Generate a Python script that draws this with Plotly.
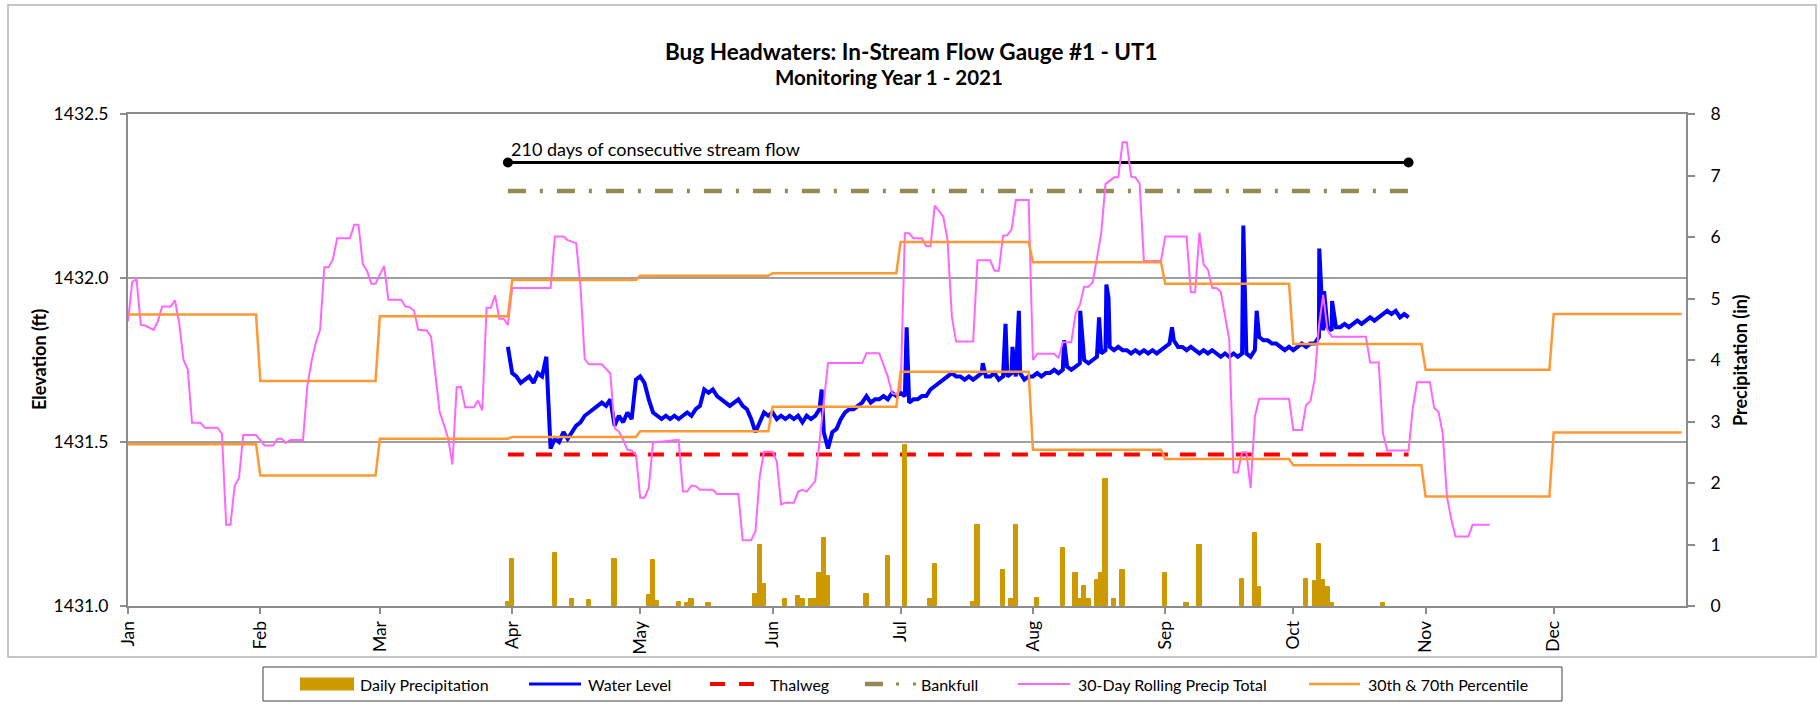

# Bug Headwaters in-stream flow gauge #1 (UT1), monitoring year 1 - 2021
import pandas as pd
import plotly.graph_objects as go

YEAR_START = pd.Timestamp('2021-01-01')

# ---- data ----
months = ['Jan', 'Feb', 'Mar', 'Apr', 'May', 'Jun', 'Jul', 'Aug', 'Sep', 'Oct', 'Nov', 'Dec']
# 30th / 70th percentile of the 30-day rolling precip total, per month (in)
pct70_in = [4.74, 3.66, 4.71, 5.30, 5.37, 5.41, 5.92, 5.59, 5.24, 4.26, 3.84, 4.75]
pct30_in = [2.63, 2.12, 2.72, 2.75, 2.84, 3.24, 3.81, 2.54, 2.39, 2.29, 1.78, 2.82]

# daily precipitation (day of year, 0 = Jan 1) and depth (in)
precip_doy = [89, 90, 100, 104, 108, 114, 122, 123, 124, 129, 131, 132, 136, 147, 148, 149,
              154, 157, 158, 160, 161, 162, 163, 164, 173, 178, 182, 188, 189, 198, 199,
              205, 207, 208, 213, 219, 222, 223, 224, 225, 227, 228, 229, 231, 233, 243,
              248, 251, 261, 264, 265, 276, 278, 279, 280, 281, 282, 294]
precip_in = [0.06, 0.77, 0.87, 0.11, 0.09, 0.77, 0.18, 0.74, 0.08, 0.06, 0.05, 0.12, 0.05, 0.19, 0.99, 0.35,
             0.11, 0.17, 0.11, 0.11, 0.11, 0.54, 1.11, 0.48, 0.19, 0.82, 2.62, 0.11, 0.69, 0.06, 1.32,
             0.58, 0.11, 1.31, 0.13, 0.95, 0.54, 0.11, 0.32, 0.11, 0.43, 0.54, 2.07, 0.12, 0.59, 0.54,
             0.05, 1.00, 0.44, 1.19, 0.31, 0.44, 0.40, 1.01, 0.43, 0.31, 0.05, 0.05]

# 30-day rolling precipitation total (day of year, in)
roll_doy = [0, 1, 2, 3, 4, 6, 7, 8, 10, 11, 12, 13, 14, 15, 17, 18, 21, 22, 23, 24, 25, 26, 27, 30,
            32, 34, 35, 36, 37, 38, 41, 42, 43, 44, 45, 46, 47, 48, 49, 52, 53, 54, 55, 56, 57, 58,
            60, 61, 64, 65, 66, 67, 68, 70, 71, 73, 74, 75, 76, 77, 78, 79, 81, 82, 83, 84, 85, 86,
            87, 88, 89, 90, 99, 100, 102, 103, 105, 106, 107, 108, 111, 112, 113, 114, 115, 116, 117,
            118, 119, 120, 121, 122, 123, 129, 130, 131, 132, 133, 134, 137, 138, 143, 144, 146, 147,
            148, 149, 151, 152, 153, 154, 156, 157, 158, 159, 161, 162, 164, 172, 173, 176, 178, 179,
            180, 181, 182, 183, 184, 186, 187, 188, 189, 191, 192, 193, 194, 198, 199, 202, 203, 204,
            205, 206, 207, 208, 211, 212, 213, 217, 218, 219, 221, 222, 223, 224, 225, 226, 227, 228,
            229, 231, 232, 233, 234, 235, 236, 237, 238, 242, 243, 248, 249, 250, 251, 252, 253, 254,
            255, 256, 258, 259, 260, 261, 262, 263, 264, 265, 272, 273, 275, 276, 277, 278, 279, 280,
            281, 282, 290, 291, 293, 294, 295, 300, 301, 302, 305, 306, 307, 308, 309, 310, 311, 314,
            315, 319]
roll_in = [4.63, 5.27, 5.31, 4.57, 4.56, 4.49, 4.63, 4.87, 4.87, 4.97, 4.60, 4.00, 3.85, 2.98, 2.98, 2.90, 2.90, 2.80, 1.32, 1.32, 1.96, 2.08, 2.78, 2.78,
           2.61, 2.61, 2.72, 2.72, 2.65, 2.70, 2.70, 3.57, 3.98, 4.28, 4.49, 5.51, 5.51, 5.64, 5.98, 5.98, 6.20, 6.20, 5.56, 5.45, 5.24, 5.24,
           5.53, 4.98, 4.98, 4.87, 4.86, 4.80, 4.49, 4.48, 4.38, 3.16, 2.95, 2.73, 2.30, 3.56, 3.56, 3.23, 3.23, 3.34, 3.18, 4.85, 4.85, 5.05,
           4.67, 4.67, 4.57, 5.17, 5.17, 6.01, 6.01, 5.95, 5.90, 5.20, 4.02, 3.93, 3.93, 3.85, 3.78, 2.89, 2.84, 2.70, 2.54,
           2.53, 2.46, 1.76, 1.76, 1.92, 2.66, 2.70, 1.86, 1.86, 1.96, 1.95, 1.89, 1.89, 1.82, 1.82, 1.07, 1.07, 1.22,
           2.11, 2.51, 2.51, 2.35, 1.65, 1.68, 1.68, 1.86, 1.89, 1.86, 2.03, 2.70, 3.95, 3.95, 4.11, 4.11, 3.73, 3.46,
           3.44, 3.52, 6.06, 6.06, 5.98, 5.98, 5.85, 5.85, 6.51, 6.33, 5.95, 4.71, 4.30, 4.30, 5.62, 5.62, 5.45, 5.45,
           6.02, 6.03, 6.12, 6.60, 6.60, 4.00, 4.10, 4.10, 4.03, 4.29, 4.29, 4.76, 4.90, 5.19, 5.19, 5.26, 5.68, 6.06,
           6.86, 6.97, 6.97, 7.54, 7.54, 6.98, 6.97, 6.87, 5.61, 5.61, 6.01, 6.01, 5.10, 5.10, 6.07, 5.55, 5.47, 5.17,
           5.17, 5.11, 4.33, 2.17, 2.17, 2.50, 2.50, 1.92, 3.08, 3.37, 3.37, 2.86, 2.86, 3.27, 3.33, 3.68, 4.55, 5.06,
           4.49, 4.38, 4.38, 3.96, 3.96, 2.81, 2.53, 2.53, 3.22, 3.64, 3.64, 3.22, 3.16, 2.81, 1.78, 1.41, 1.13, 1.13,
           1.32, 1.32]

# water level (ft), one reading per day starting Mar 31, plus short storm spikes
wl_start = '2021-03-31'
wl_daily = [1431.79, 1431.71, 1431.70, 1431.68, 1431.69, 1431.70, 1431.68, 1431.71, 1431.70, 1431.76,  # Mar 31 - Apr 8
            1431.48, 1431.51, 1431.50, 1431.53, 1431.51, 1431.53, 1431.55, 1431.56, 1431.58, 1431.59,
            1431.60, 1431.61, 1431.62, 1431.61, 1431.63, 1431.55, 1431.58, 1431.56, 1431.59, 1431.57,
            1431.69, 1431.70, 1431.68, 1431.63, 1431.59, 1431.58, 1431.57, 1431.58, 1431.57, 1431.58,
            1431.57, 1431.58, 1431.59, 1431.58, 1431.60, 1431.61, 1431.66, 1431.65, 1431.66, 1431.64,
            1431.63, 1431.62, 1431.61, 1431.62, 1431.63, 1431.61, 1431.60, 1431.57, 1431.53, 1431.56,
            1431.59, 1431.58, 1431.59, 1431.57, 1431.58, 1431.57, 1431.58, 1431.57, 1431.58, 1431.56,
            1431.58, 1431.57, 1431.58, 1431.60, 1431.53, 1431.48, 1431.53, 1431.54, 1431.57, 1431.59,
            1431.60, 1431.60, 1431.61, 1431.62, 1431.64, 1431.62, 1431.63, 1431.63, 1431.64, 1431.63,
            1431.65, 1431.64, 1431.65, 1431.64, 1431.62, 1431.63, 1431.63, 1431.64, 1431.64, 1431.66,
            1431.67, 1431.68, 1431.69, 1431.70, 1431.71, 1431.70, 1431.70, 1431.69, 1431.70, 1431.69,
            1431.70, 1431.71, 1431.70, 1431.70, 1431.71, 1431.69, 1431.70, 1431.70, 1431.71, 1431.70,
            1431.71, 1431.69, 1431.70, 1431.70, 1431.71, 1431.70, 1431.71, 1431.71, 1431.72, 1431.71,
            1431.72, 1431.73, 1431.72, 1431.73, 1431.74, 1431.75, 1431.74, 1431.75, 1431.76, 1431.77,
            1431.78, 1431.79, 1431.78, 1431.79, 1431.78, 1431.78, 1431.77, 1431.78, 1431.77, 1431.78,
            1431.77, 1431.78, 1431.77, 1431.78, 1431.79, 1431.80, 1431.81, 1431.79, 1431.79, 1431.78,
            1431.79, 1431.78, 1431.77, 1431.78, 1431.77, 1431.78, 1431.77, 1431.76, 1431.77, 1431.76,
            1431.77, 1431.76, 1431.77, 1431.77, 1431.76, 1431.78, 1431.82, 1431.81, 1431.81, 1431.80,
            1431.80, 1431.79, 1431.78, 1431.79, 1431.78, 1431.79, 1431.80, 1431.79, 1431.80, 1431.80,
            1431.82, 1431.84, 1431.85, 1431.84, 1431.85, 1431.85, 1431.86, 1431.85, 1431.86, 1431.87,
            1431.86, 1431.87, 1431.88, 1431.87, 1431.88, 1431.89, 1431.90, 1431.89, 1431.90, 1431.88,
            1431.89, 1431.88]
wl_spike_time = ['2021-06-12 12:00', '2021-07-02 10:00', '2021-07-20 06:00', '2021-07-25 14:00',
                 '2021-07-27 05:00', '2021-07-28 17:00', '2021-08-08 07:00', '2021-08-12 02:00',
                 '2021-08-16 12:00', '2021-08-18 05:00', '2021-08-18 17:00', '2021-09-02 14:00',
                 '2021-09-19 07:00', '2021-09-22 10:00', '2021-10-07 02:00', '2021-10-08 05:00',
                 '2021-10-10 02:00']
wl_spike_level = [1431.66, 1431.85, 1431.74, 1431.86, 1431.79, 1431.90, 1431.81, 1431.90,
                  1431.88, 1431.98, 1431.94, 1431.85, 1432.16, 1431.90, 1432.09, 1431.96, 1431.93]

flow_start, flow_end = '2021-03-31', '2021-10-28'
thalweg_ft = 1431.462
bankfull_ft = 1432.265
flow_bar_ft = 1432.352
flow_label = '210 days of consecutive stream flow'

# ---- styles ----
C_BAR = '#CC9900'
C_WL = '#0000FF'
C_THAL = '#FF0000'
C_BANK = '#948A54'
C_ROLL = '#FF66FF'
C_PCT = '#FF9933'
C_AXIS = '#8C8C8C'
C_GRID = '#A0A0A0'
FONT = 'Lato'

W, H = 1820, 711
L, R, T, B = 128, 134, 114, 105


def px(x):
    '''pixel column -> paper x'''
    return (x - L) / (W - L - R)


def py(y):
    '''pixel row (from top) -> paper y'''
    return (H - B - y) / (H - T - B)


def doy(days):
    '''day-of-year offsets -> timestamps'''
    return [YEAR_START + pd.Timedelta(days=d) for d in days]


# monthly step lines: hold each month's value from its first to its last day
month_first = pd.date_range('2021-01-01', periods=12, freq='MS')
month_last = pd.date_range('2021-01-31', periods=12, freq='ME')
step_x = [d for pair in zip(month_first, month_last) for d in pair]
p70_y = [v for v in pct70_in for _ in range(2)]
p30_y = [v for v in pct30_in for _ in range(2)]

wl = pd.concat([
    pd.Series(wl_daily, index=pd.date_range(wl_start, periods=len(wl_daily), freq='D')),
    pd.Series(wl_spike_level, index=pd.to_datetime(wl_spike_time)),
]).sort_index()

fig = go.Figure()

# primary axis: elevations
fig.add_trace(go.Scatter(x=wl.index, y=wl.values, mode='lines',
                         line=dict(color=C_WL, width=4), name='Water Level'))
fig.add_trace(go.Scatter(x=[flow_start, flow_end], y=[thalweg_ft, thalweg_ft], mode='lines',
                         line=dict(color=C_THAL, width=4, dash='16px,12px'), name='Thalweg'))
fig.add_trace(go.Scatter(x=[flow_start, flow_end], y=[bankfull_ft, bankfull_ft], mode='lines',
                         line=dict(color=C_BANK, width=4.5, dash='18px,14px,3px,14px'), name='Bankfull'))
fig.add_trace(go.Scatter(x=[flow_start, flow_end], y=[flow_bar_ft, flow_bar_ft], mode='lines+markers',
                         line=dict(color='black', width=3), marker=dict(color='black', size=10),
                         name='Stream flow'))

# secondary axis: precipitation
fig.add_trace(go.Bar(x=doy(precip_doy), y=precip_in, yaxis='y2', width=86400000,
                     marker=dict(color=C_BAR, line=dict(color=C_BAR, width=1)),
                     name='Daily Precipitation'))
fig.add_trace(go.Scatter(x=doy(roll_doy), y=roll_in, yaxis='y2', mode='lines',
                         line=dict(color=C_ROLL, width=2), name='30-Day Rolling Precip Total'))
fig.add_trace(go.Scatter(x=step_x, y=p70_y, yaxis='y2', mode='lines',
                         line=dict(color=C_PCT, width=2.5), name='70th Percentile'))
fig.add_trace(go.Scatter(x=step_x, y=p30_y, yaxis='y2', mode='lines',
                         line=dict(color=C_PCT, width=2.5), name='30th Percentile'))

annotations = [
    dict(text='<b>Bug Headwaters: In-Stream Flow Gauge #1 - UT1</b>', x=px(911), y=py(51),
         font=dict(size=22.5)),
    dict(text='<b>Monitoring Year 1 - 2021</b>', x=px(889), y=py(77), font=dict(size=20.5)),
    dict(text='<b>Elevation (ft)</b>', x=px(39), y=py(360), textangle=-90, font=dict(size=18)),
    dict(text='<b>Precipitation (in)</b>', x=px(1740), y=py(360), textangle=-90, font=dict(size=18)),
]
for a in annotations:
    a.update(xref='paper', yref='paper', showarrow=False, xanchor='center', yanchor='middle')

# label above the stream-flow bar
annotations.append(dict(text=flow_label, x=flow_start, y=flow_bar_ft, xref='x', yref='y',
                        xanchor='left', yanchor='bottom', xshift=1, yshift=1, showarrow=False,
                        font=dict(size=18)))

shapes = [
    # chart frame
    dict(type='rect', xref='paper', yref='paper', x0=px(8), x1=px(1816), y0=py(657), y1=py(5),
         line=dict(color='#B4B4B4', width=1.5)),
    # legend box
    dict(type='rect', xref='paper', yref='paper', x0=px(263), x1=px(1562), y0=py(701), y1=py(667),
         line=dict(color='#404040', width=1)),
]

# legend entries drawn by hand to keep Excel's spacing
LEG_Y = 684
legend_items = [
    ('Daily Precipitation', 358),
    ('Water Level', 586),
    ('Thalweg', 768),
    ('Bankfull', 919),
    ('30-Day Rolling Precip Total', 1076),
    ('30th & 70th Percentile', 1366),
]
for text, x in legend_items:
    annotations.append(dict(text=text, x=px(x), y=py(LEG_Y), xref='paper', yref='paper',
                            xanchor='left', yanchor='middle', showarrow=False, font=dict(size=16)))


def leg_line(x0, x1, color, width):
    return dict(type='line', xref='paper', yref='paper', x0=px(x0), x1=px(x1),
                y0=py(LEG_Y), y1=py(LEG_Y), line=dict(color=color, width=width))


shapes += [
    dict(type='rect', xref='paper', yref='paper', x0=px(300), x1=px(354), y0=py(690.5), y1=py(677.5),
         fillcolor=C_BAR, line=dict(width=0)),
    leg_line(529, 581, C_WL, 3),
    leg_line(710, 725, C_THAL, 4),
    leg_line(739, 754, C_THAL, 4),
    leg_line(865, 883, C_BANK, 4.5),
    leg_line(896, 899, C_BANK, 3),
    leg_line(913, 916, C_BANK, 3),
    leg_line(1018, 1070, C_ROLL, 2),
    leg_line(1309, 1360, C_PCT, 2.5),
]

fig.update_layout(
    width=W, height=H,
    margin=dict(l=L, r=R, t=T, b=B),
    paper_bgcolor='white', plot_bgcolor='white',
    showlegend=False,
    bargap=0,
    font=dict(family=FONT, size=17.5, color='black'),
    xaxis=dict(type='date', range=['2021-01-01', '2022-01-01'],
               tickvals=month_first, ticktext=months, tickangle=-90,
               ticks='outside', ticklen=6, tickwidth=1.5, tickcolor=C_AXIS,
               showline=True, mirror=True, linecolor=C_AXIS, linewidth=2,
               showgrid=False, zeroline=False),
    yaxis=dict(range=[1431.0, 1432.5], dtick=0.5, tickformat='.1f', ticks='outside', ticklen=6,
               tickwidth=1.5, tickcolor=C_AXIS, showline=True, linecolor=C_AXIS, linewidth=2,
               gridcolor=C_GRID, gridwidth=2, zeroline=False, ticklabelstandoff=8),
    yaxis2=dict(range=[0, 8], dtick=1, overlaying='y', side='right', ticks='outside', ticklen=7,
                tickwidth=1.5, tickcolor=C_AXIS, showline=True, linecolor=C_AXIS, linewidth=2,
                showgrid=False, zeroline=False, ticklabelstandoff=12),
    annotations=annotations,
    shapes=shapes,
)

# the page is photographed at the window origin, so drop the default body margin
fig.write_html('out.html', config={'displayModeBar': False},
               post_script="document.body.style.margin = '0';")
